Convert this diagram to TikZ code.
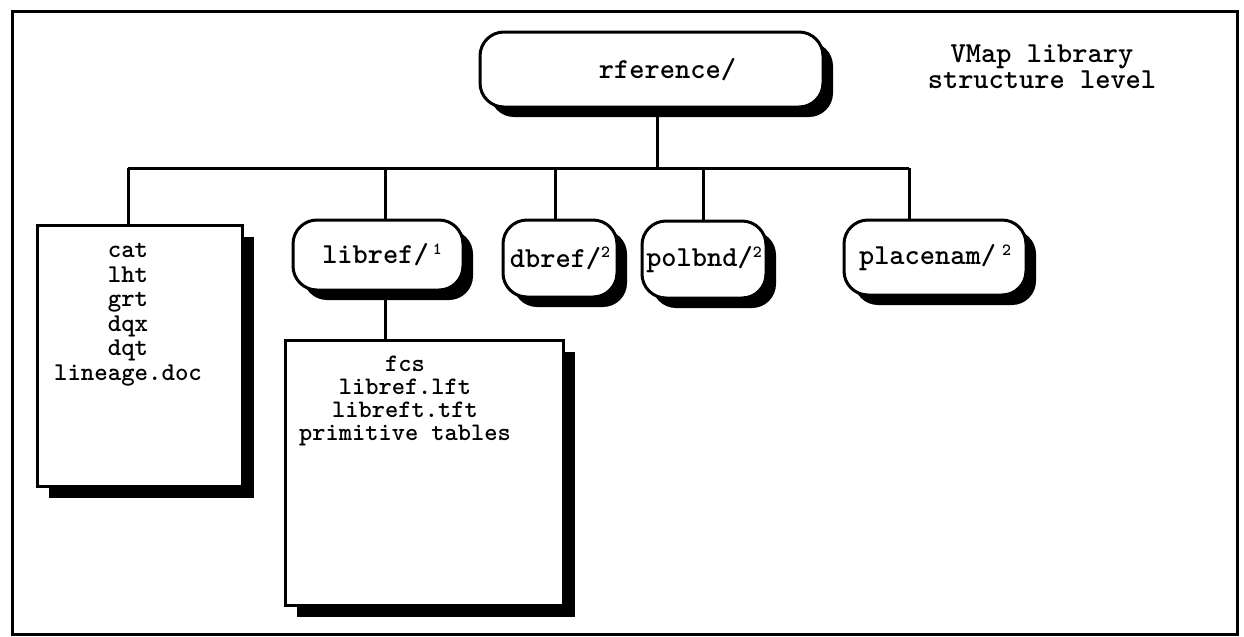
\documentclass[tikz,border=0pt]{standalone}
\usepackage{fontspec}
\usetikzlibrary{shadows}
\newcommand{\supnum}[1]{\raisebox{0.75ex}{\fontsize{8.5}{8.5}\selectfont #1}}
\begin{document}
\begin{tikzpicture}[x=0.5pt,y=-0.5pt, line width=1.5pt,
  dirbox/.style={draw, rounded corners=12pt, fill=white, inner sep=0pt,
    drop shadow={shadow xshift=5pt, shadow yshift=-5pt, fill=black, opacity=1}},
  filebox/.style={draw, fill=white, inner sep=0pt,
    drop shadow={shadow xshift=6pt, shadow yshift=-6pt, fill=black, opacity=1}},
  lbl/.style={font=\ttfamily\bfseries\fontsize{14.5}{12}\selectfont, align=center},
  lst/.style={font=\ttfamily\bfseries\fontsize{12.8}{12.25}\selectfont, align=center, anchor=north, inner sep=0pt},
  lst2/.style={lst, font=\ttfamily\bfseries\fontsize{12.6}{11.5}\selectfont}
]
\useasboundingbox (0,0) rectangle (1244,637);
\draw (12,11) rectangle (1237,634);

% bus coordinates
\coordinate (bL) at (128,168);
\coordinate (b1) at (385,168);
\coordinate (b2) at (555,168);
\coordinate (bt) at (657,168);
\coordinate (b3) at (703,168);
\coordinate (bR) at (909,168);

% nodes
\node[dirbox, minimum width=171.5pt, minimum height=37.5pt,
  label={[lbl, xshift=8pt]center:rference/}] (root) at (651.5,69.5) {};
\node[lbl, anchor=north, inner sep=0pt] (title) at (1042,43) {VMap library\\structure level};

\node[filebox, minimum width=102.5pt, minimum height=130.5pt] (files) at (139.5,355.5) {};
\node[lst] (fileslist) at (128,242) {cat\\lht\\grt\\dqx\\dqt\\lineage.doc};

\node[dirbox, lbl, minimum width=85pt, minimum height=35pt] (libref) at (378,255) {\hspace{4pt}libref/\kern2pt\supnum{1}};
\node[dirbox, lbl, minimum width=57pt, minimum height=38.5pt] (dbref) at (560,258.5) {dbref/\supnum{2}};
\node[dirbox, lbl, minimum width=62pt, minimum height=38.5pt] (polbnd) at (704,259.5) {polbnd/\supnum{2}};
\node[dirbox, lbl, minimum width=91pt, minimum height=37.5pt] (placenam) at (935,257.5) {placenam/\kern3pt\supnum{2}};

\node[filebox, minimum width=139pt, minimum height=132.5pt] (libfiles) at (424,472.5) {};
\node[lst2] (libfileslist) at (405,354) {fcs\\libref.lft\\libreft.tft\\primitive tables};

% connectors
\draw (bt |- root.south) -- (bt);
\draw (bL) -- (bR);
\draw (bL) -- (bL |- files.north);
\draw (b1) -- (b1 |- libref.north);
\draw (b2) -- (b2 |- dbref.north);
\draw (b3) -- (b3 |- polbnd.north);
\draw (bR) -- (bR |- placenam.north);
\draw (b1 |- libref.south) -- (b1 |- libfiles.north);
\end{tikzpicture}
\end{document}
